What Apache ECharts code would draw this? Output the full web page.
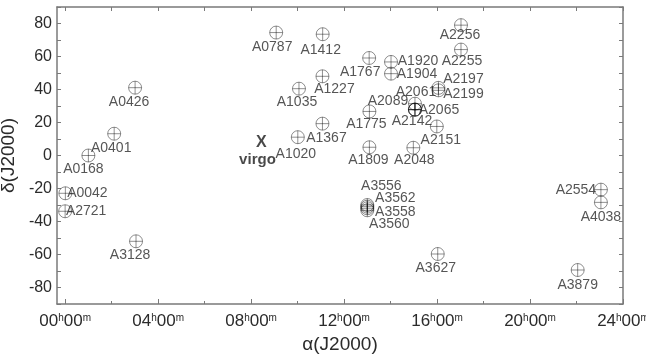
<!DOCTYPE html>
<html>
<head>
<meta charset="utf-8">
<script src="https://cdn.jsdelivr.net/npm/echarts@6/dist/echarts.min.js"></script>
<style>html,body{margin:0;padding:0;background:#fff}#c{width:646px;height:359px}</style>
</head>
<body>
<div id="c"></div>
<script>
// ---- data ----
const names = ['A0168','A0401','A0426','A0042','A2721','A3128','A0787','A1412','A1767','A1227','A1035','A1367','A1020','A1775','A1809','A1920','A1904','A2197','A2199','A2061','A2065','A2089','A2142','A2151','A2048','A2256','A2255','A3556','A3562','A3558','A3560','A2554','A4038','A3627','A3879'];
const ra  = [1.00, 2.11, 3.01, 0.01, 0.00, 3.05, 9.08, 11.08, 13.08, 11.07, 10.06, 11.07, 10.01, 13.09, 13.09, 14.02, 14.02, 16.06, 16.06, 15.05, 15.05, 15.05, 15.05, 15.99, 14.98, 17.03, 17.03, 13.00, 13.00, 13.00, 13.00, 23.05, 23.05, 16.03, 22.05];
const dec = [0.0, 13.2, 41.1, -22.9, -33.8, -52.0, 74.5, 73.5, 59.1, 48.0, 40.5, 19.3, 11.1, 26.7, 5.0, 56.7, 49.6, 41.0, 39.5, 31.4, 27.8, 27.8, 27.8, 17.6, 4.7, 79.0, 64.2, -30.0, -31.0, -32.0, -33.2, -20.7, -28.4, -59.7, -69.4];
const virgoName = 'virgo';
const virgoRa = 8.36;
const virgoDec = 7.1;
const xTicks = [0, 4, 8, 12, 16, 20, 24];
const xMinorTicks = [0, 2, 4, 6, 8, 10, 12, 14, 16, 18, 20, 22, 24];
const yTicks = [-80, -60, -40, -20, 0, 20, 40, 60, 80];

// ---- label layout (pixel offsets of each name relative to its marker) ----
const labelOffsets = [[-5,14],[-3,14],[-6,14],[22,0],[21,0],[-6,14],[-4,15],[-2,16],[-9,14],[12,13],[-2,13],[4,14],[-2,17],[-3,13],[-1,13],[27,-1],[26,0],[25,-9],[25,4],[1,-12],[24,1],[-27,-8],[-3,12],[4,14],[1,12],[-1,10],[1,12],[14,-19],[28,-9],[28,4],[22,14],[-25,0],[0,15],[-2,14],[0,15]];

const axisColor = '#7a7a7a';
const textColor = '#2b2b2b';
const font = 'Arial, "Liberation Sans", sans-serif';

const pts = names.map((n, i) => ({
  name: n,
  value: [ra[i], dec[i]],
  label: { offset: labelOffsets[i] }
}));

const chart = echarts.init(document.getElementById('c'), null, { renderer: 'canvas' });
const lineStyle = { color: axisColor, width: 1.5 };
const baseX = {
  type: 'value', min: -0.35, max: 24, gridIndex: 0,
  axisLine: { show: true, onZero: false, lineStyle },
  splitLine: { show: false }
};
const baseY = {
  type: 'value', min: -90, max: 90, interval: 10, gridIndex: 0,
  axisLine: { show: true, onZero: false, lineStyle },
  splitLine: { show: false }
};

chart.setOption({
  animation: false,
  backgroundColor: '#fff',
  grid: { left: 57, top: 7, right: 23, bottom: 55, containLabel: false, outerBoundsMode: 'none' },
  xAxis: [
    Object.assign({}, baseX, {
      position: 'bottom',
      axisTick: { show: true, inside: true, length: 5, customValues: xTicks, lineStyle: { color: axisColor, width: 1 } },
      axisLabel: {
        margin: 9,
        customValues: xTicks,
        formatter: function (v) {
          const h = (v < 10 ? '0' : '') + v;
          return '{n|' + h + '}{s|h}{n|00}{s|m}';
        },
        rich: {
          n: { fontSize: 17, fontFamily: font, color: textColor },
          s: { fontSize: 10, fontFamily: font, color: textColor, verticalAlign: 'top' }
        }
      },
      name: 'α(J2000)', nameLocation: 'middle', nameGap: 31,
      nameTextStyle: { fontSize: 19, fontFamily: font, color: textColor }
    }),
    Object.assign({}, baseX, {
      position: 'bottom',
      axisLine: { show: false, onZero: false },
      axisTick: { show: true, inside: true, length: 3, customValues: xMinorTicks, lineStyle: { color: axisColor, width: 1 } },
      axisLabel: { show: false }
    }),
    Object.assign({}, baseX, {
      position: 'top',
      axisTick: { show: true, inside: true, length: 4, customValues: xMinorTicks, lineStyle: { color: axisColor, width: 1 } },
      axisLabel: { show: false }
    })
  ],
  yAxis: [
    Object.assign({}, baseY, {
      position: 'left',
      axisTick: { show: true, inside: true, length: 4, lineStyle: { color: axisColor, width: 1 } },
      axisLabel: {
        margin: 5, fontSize: 16, fontFamily: font, color: textColor,
        formatter: function (v) { return yTicks.indexOf(v) >= 0 ? String(v) : ''; }
      },
      name: 'δ(J2000)', nameLocation: 'middle', nameGap: 36, nameRotate: 90,
      nameTextStyle: { fontSize: 19, fontFamily: font, color: textColor }
    }),
    Object.assign({}, baseY, {
      position: 'right',
      axisTick: { show: true, inside: true, length: 4, lineStyle: { color: axisColor, width: 1 } },
      axisLabel: { show: false }
    })
  ],
  series: [
    {
      type: 'scatter', xAxisIndex: 0, yAxisIndex: 0,
      symbol: 'path://M0,-6A6,6,0,1,1,0,6A6,6,0,1,1,0,-6ZM-6,0L6,0M0,-6L0,6',
      symbolSize: 13,
      itemStyle: { color: 'rgba(0,0,0,0)', borderColor: 'rgba(0,0,0,0.55)', borderWidth: 1 },
      label: {
        show: true, position: 'inside', formatter: '{b}',
        fontSize: 14, fontFamily: font, color: textColor
      },
      emphasis: { disabled: true },
      data: pts,
      z: 3
    },
    {
      type: 'scatter', xAxisIndex: 0, yAxisIndex: 0,
      symbolSize: 0,
      label: {
        show: true, position: 'inside', offset: [-2, 8],
        formatter: function (p) { return '{x|X}\n{v|' + p.name + '}'; },
        rich: {
          x: { fontSize: 16, fontWeight: 'bold', fontFamily: font, color: '#1a1a1a', lineHeight: 16, padding: [0, 0, 0, 8] },
          v: { fontSize: 15, fontWeight: 'bold', fontFamily: font, color: '#1a1a1a', lineHeight: 18 }
        }
      },
      emphasis: { disabled: true },
      data: [{ name: virgoName, value: [virgoRa, virgoDec] }],
      z: 4
    }
  ]
});
</script>
</body>
</html>
